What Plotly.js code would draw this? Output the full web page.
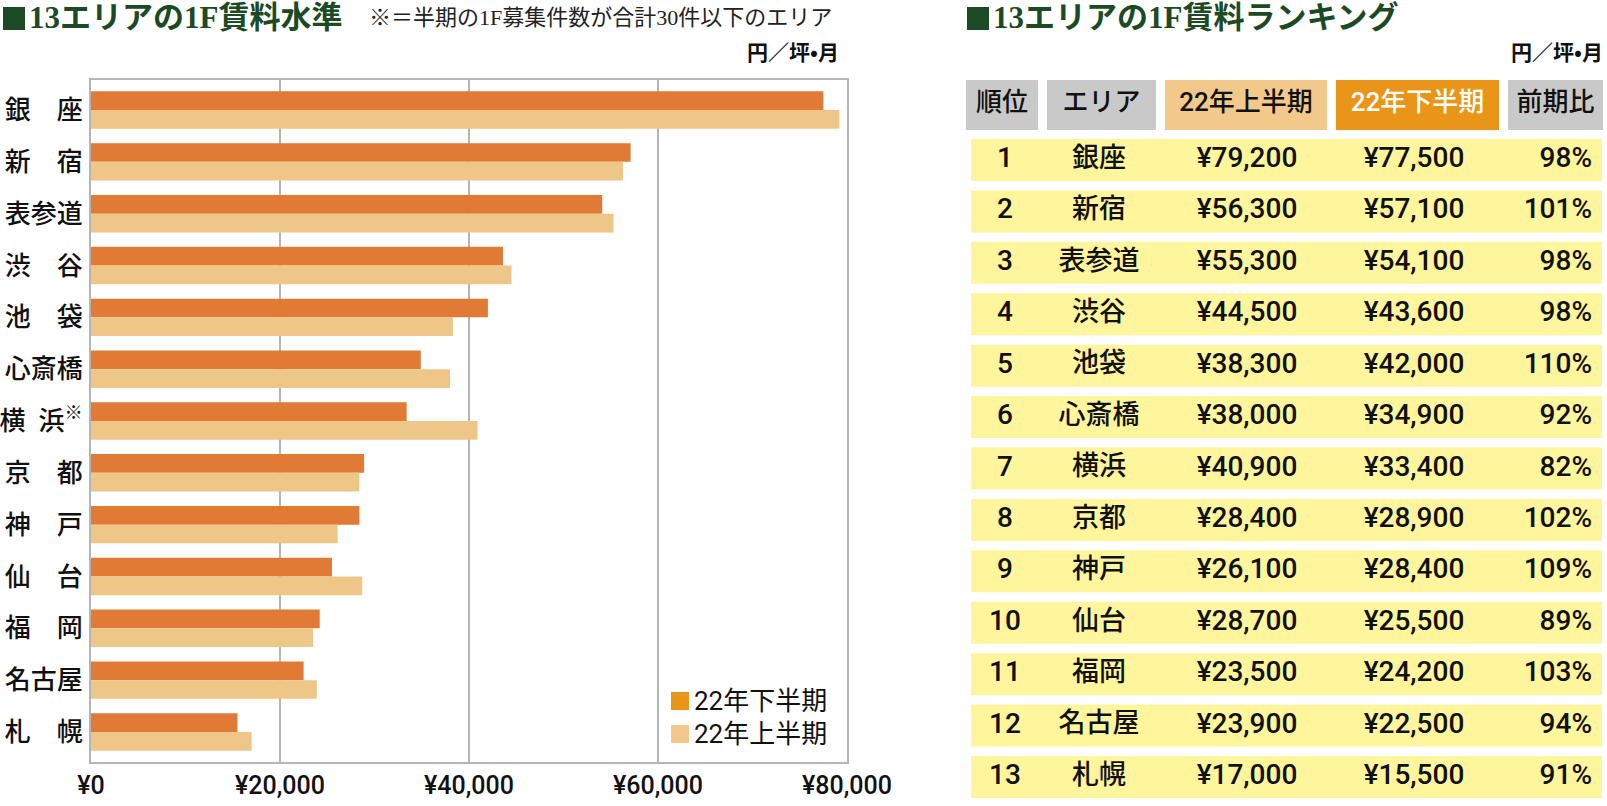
<!DOCTYPE html>
<html>
<head>
<meta charset="utf-8">
<script src="https://cdn.plot.ly/plotly-3.0.1.min.js"></script>
<style>
html,body{margin:0;padding:0;background:#fff;}
#chart{width:1607px;height:806px;}
</style>
</head>
<body>
<div id="chart"></div>
<script>
// ---- data ----
const areas = ['銀座','新宿','表参道','渋谷','池袋','心斎橋','横浜','京都','神戸','仙台','福岡','名古屋','札幌'];
const noteAreas = ['横浜'];
const ranks = [1,2,3,4,5,6,7,8,9,10,11,12,13];
const rentH1 = [79200,56300,55300,44500,38300,38000,40900,28400,26100,28700,23500,23900,17000]; // 22年上半期
const rentH2 = [77500,57100,54100,43600,42000,34900,33400,28900,28400,25500,24200,22500,15500]; // 22年下半期
const ratioPct = [98,101,98,98,110,92,82,102,109,89,103,94,91];
const xTickVals = [0,20000,40000,60000,80000];
const xTickText = ['¥0','¥20,000','¥40,000','¥60,000','¥80,000'];
const headerLabels = ['順位','エリア','22年上半期','22年下半期','前期比'];
const seriesNames = ['22年下半期','22年上半期'];

// ---- style / layout constants ----
const W = 1607, H = 806;
const px = x => x / W;
const py = y => 1 - y / H;
const CJK = 'Noto Sans CJK JP';
const NUM = 'Roboto, Noto Sans CJK JP';
const SERIF = 'Liberation Serif, Noto Sans CJK JP';
const GREEN = '#1C4A25';
const cDark = '#E07A35', cLight = '#EEC687';
const legDark = '#E8951A', legLight = '#F2C98A';
const grid = '#B5B5B5';

const fmtYen = v => '¥' + v.toLocaleString('en-US');
const axisLabel = a => {
  let s = a.length === 2 ? a[0] + '\u3000' + a[1] : a;
  if (noteAreas.includes(a)) s = a[0] + '\u2002' + a[1] + '<sup>※</sup>';
  return s;
};
const yLabels = areas.map(axisLabel);

// table geometry (pixel units on x2)
const colLeft  = [966, 1047, 1165, 1336, 1508];
const colWidth = [72, 109, 162, 163, 95];
const hdrFill  = ['#C9C9C9','#C9C9C9', legLight, legDark, '#C9C9C9'];
const hdrText  = ['#111','#111','#111','#FFFFFF','#111'];
const hdrY = -0.07;
const rowLeft = 971, rowWidth = 631;
const colCenter = {rank:1005, area:1099, h1:1247, h2:1414};
const ratioRight = 1592;
const cellFont = {family:NUM, size:28, color:'#111', weight:500};

const traces = [
  {type:'bar', orientation:'h', name:seriesNames[0], y:yLabels, x:rentH2,
   marker:{color:cDark}, hoverinfo:'skip', showlegend:false},
  {type:'bar', orientation:'h', name:seriesNames[1], y:yLabels, x:rentH1,
   marker:{color:cLight}, hoverinfo:'skip', showlegend:false},
  // table header cells
  {type:'bar', orientation:'h', xaxis:'x2', yaxis:'y2',
   y:headerLabels.map(()=>hdrY), base:colLeft, x:colWidth,
   width:headerLabels.map(()=>0.972), offset:headerLabels.map(()=>-0.486),
   marker:{color:hdrFill}, hoverinfo:'skip', showlegend:false},
  // table row bands
  {type:'bar', orientation:'h', xaxis:'x2', yaxis:'y2',
   y:ranks, base:ranks.map(()=>rowLeft), x:ranks.map(()=>rowWidth),
   width:ranks.map(()=>0.817), offset:ranks.map(()=>-0.4085),
   marker:{color:'#FFF59D'}, hoverinfo:'skip', showlegend:false},
  // header text
  {type:'scatter', mode:'text', xaxis:'x2', yaxis:'y2',
   x:colLeft.map((l,i)=>l+colWidth[i]/2), y:headerLabels.map(()=>hdrY),
   text:headerLabels, textposition:'middle center',
   textfont:{family:NUM, size:26, color:hdrText, weight:500}, hoverinfo:'skip', showlegend:false},
  // rows text
  {type:'scatter', mode:'text', xaxis:'x2', yaxis:'y2',
   x:ranks.map(()=>colCenter.rank), y:ranks, text:ranks.map(String),
   textposition:'middle center', textfont:cellFont, hoverinfo:'skip', showlegend:false},
  {type:'scatter', mode:'text', xaxis:'x2', yaxis:'y2',
   x:ranks.map(()=>colCenter.area), y:ranks, text:areas,
   textposition:'middle center', textfont:{family:CJK, size:27, color:'#111', weight:500},
   hoverinfo:'skip', showlegend:false},
  {type:'scatter', mode:'text', xaxis:'x2', yaxis:'y2',
   x:ranks.map(()=>colCenter.h1), y:ranks, text:rentH1.map(fmtYen),
   textposition:'middle center', textfont:cellFont, hoverinfo:'skip', showlegend:false},
  {type:'scatter', mode:'text', xaxis:'x2', yaxis:'y2',
   x:ranks.map(()=>colCenter.h2), y:ranks, text:rentH2.map(fmtYen),
   textposition:'middle center', textfont:cellFont, hoverinfo:'skip', showlegend:false},
  {type:'scatter', mode:'text', xaxis:'x2', yaxis:'y2',
   x:ranks.map(()=>ratioRight), y:ranks, text:ratioPct.map(v=>v+'%'),
   textposition:'middle left', textfont:cellFont, hoverinfo:'skip', showlegend:false}
];

const ann = (x,y,text,opt) => Object.assign({xref:'paper', yref:'paper', x:px(x), y:py(y),
  text:text, showarrow:false, xanchor:'left', yanchor:'middle',
  font:{family:CJK, size:22, color:'#111'}}, opt||{});

const annotations = [
  ann(27, 17, '13エリアの1F賃料水準', {font:{family:SERIF, size:31, color:GREEN, weight:700}}),
  ann(367, 18, '※＝半期の1F募集件数が合計30件以下のエリア', {font:{family:SERIF, size:22, color:'#222'}}),
  ann(841, 51, '円／坪•月', {xanchor:'right', font:{family:CJK, size:21, color:'#111', weight:700}}),
  ann(991, 17, '13エリアの1F賃料ランキング', {font:{family:SERIF, size:31, color:GREEN, weight:700}}),
  ann(1605, 51, '円／坪•月', {xanchor:'right', font:{family:CJK, size:21, color:'#111', weight:700}}),
  ann(692, 701, seriesNames[0], {font:{family:NUM, size:26, color:'#111'}}),
  ann(692, 734, seriesNames[1], {font:{family:NUM, size:26, color:'#111'}})
];

const shapes = [
  {type:'rect', xref:'paper', yref:'paper', x0:px(3), x1:px(25), y0:py(7), y1:py(30), fillcolor:GREEN, line:{width:0}},
  {type:'rect', xref:'paper', yref:'paper', x0:px(967), x1:px(989), y0:py(7), y1:py(30), fillcolor:GREEN, line:{width:0}},
  {type:'rect', xref:'paper', yref:'paper', x0:px(671), x1:px(689), y0:py(692), y1:py(710), fillcolor:legDark, line:{width:0}},
  {type:'rect', xref:'paper', yref:'paper', x0:px(671), x1:px(689), y0:py(725), y1:py(743), fillcolor:legLight, line:{width:0}}
];

const layout = {
  width:W, height:H,
  margin:{l:0, r:0, t:0, b:0},
  paper_bgcolor:'#fff', plot_bgcolor:'#fff',
  barmode:'group', bargap:0.278, bargroupgap:0,
  showlegend:false,
  font:{family:NUM, color:'#111'},
  xaxis:{domain:[px(91), px(847)], range:[0,80000], anchor:'y',
    tickvals:xTickVals, ticktext:xTickText, ticks:'', ticklabelstandoff:0,
    tickfont:{family:NUM, size:25, color:'#111', weight:500},
    showgrid:true, gridcolor:grid, gridwidth:1.5, zeroline:false,
    showline:true, mirror:true, linecolor:grid, linewidth:2, fixedrange:true},
  yaxis:{domain:[py(762), py(80)], type:'category', categoryarray:yLabels, categoryorder:'array',
    range:[12.579, -0.579], anchor:'x', ticks:'', ticklabelstandoff:1,
    tickfont:{family:CJK, size:26, color:'#111', weight:500}, showgrid:false, zeroline:false,
    showline:true, mirror:true, linecolor:grid, linewidth:2, fixedrange:true},
  xaxis2:{domain:[px(960), 1], range:[960, 1607], anchor:'y2', visible:false, fixedrange:true},
  yaxis2:{domain:[0,1], range:[13.564, -2.112], anchor:'x2', visible:false, fixedrange:true},
  annotations:annotations,
  shapes:shapes
};

Plotly.newPlot('chart', traces, layout, {staticPlot:true, displayModeBar:false});
</script>
</body>
</html>
